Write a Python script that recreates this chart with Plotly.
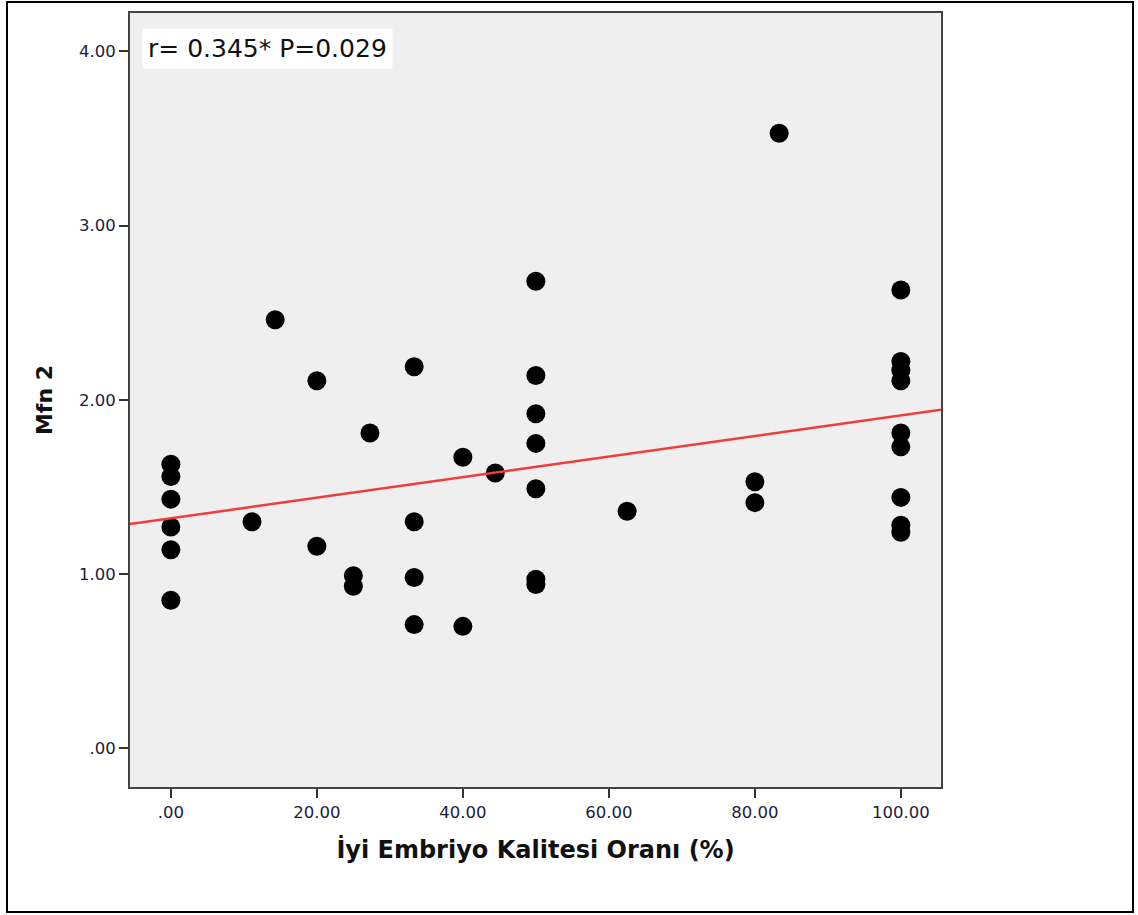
import numpy as np
import plotly.graph_objects as go

# Data
x_vals = [0, 0, 0, 0, 0, 0,
          11.11, 14.29, 20, 20, 25, 25, 27.27,
          33.33, 33.33, 33.33, 33.33, 40, 40, 44.44,
          50, 50, 50, 50, 50, 50, 50,
          62.5, 80, 80, 83.33,
          100, 100, 100, 100, 100, 100, 100, 100, 100]
y_vals = [1.63, 1.56, 1.43, 1.27, 1.14, 0.85,
          1.30, 2.46, 2.11, 1.16, 0.99, 0.93, 1.81,
          2.19, 1.30, 0.98, 0.71, 1.67, 0.70, 1.58,
          2.68, 2.14, 1.92, 1.75, 1.49, 0.97, 0.94,
          1.36, 1.53, 1.41, 3.53,
          2.63, 2.22, 2.17, 2.11, 1.81, 1.73, 1.44, 1.28, 1.24]

fit_x = [-5.6, 105.5]
fit_intercept = 1.32
fit_slope = 0.0059
fit_y = [fit_intercept + fit_slope * v for v in fit_x]

x_ticks = [0, 20, 40, 60, 80, 100]
x_ticktext = [".00", "20.00", "40.00", "60.00", "80.00", "100.00"]
y_ticks = [0, 1, 2, 3, 4]
y_ticktext = [".00", "1.00", "2.00", "3.00", "4.00"]

W, H = 1138, 915
L, R, T, B = 130, 197, 13, 128
pw, ph = W - L - R, H - T - B

def px(xp):
    return (xp - L) / pw

def py(yp):
    return (H - B - yp) / ph

fig = go.Figure()
fig.add_trace(go.Scatter(x=x_vals, y=y_vals, mode="markers",
                         marker=dict(color="black", size=19, line=dict(width=0)),
                         showlegend=False, hoverinfo="skip"))
fig.add_trace(go.Scatter(x=fit_x, y=fit_y, mode="lines",
                         line=dict(color="#f03c3c", width=2.5),
                         showlegend=False, hoverinfo="skip"))

axis_common = dict(showline=True, linecolor="#444444", linewidth=2, mirror=True,
                   showgrid=False, zeroline=False, ticks="outside", ticklen=9,
                   tickwidth=2, tickcolor="#333333",
                   tickfont=dict(family="DejaVu Sans", size=16.5, color="#1c1c3a"))

fig.update_xaxes(range=[-5.6, 105.5], tickvals=x_ticks, ticktext=x_ticktext,
                 title=dict(text="<b>İyi Embriyo Kalitesi Oranı (%)</b>",
                            font=dict(family="DejaVu Sans", size=24, color="#111111"),
                            standoff=20),
                 **axis_common)
fig.update_yaxes(range=[-0.222, 4.22], tickvals=y_ticks, ticktext=y_ticktext,
                 title=dict(text="<b>Mfn 2</b>",
                            font=dict(family="DejaVu Sans", size=22, color="#111111"),
                            standoff=20),
                 **axis_common)

fig.add_annotation(xref="paper", yref="paper", x=px(142), y=py(48),
                   xanchor="left", yanchor="middle", showarrow=False,
                   text="r= 0.345* P=0.029", bgcolor="white",
                   borderpad=5,
                   font=dict(family="DejaVu Sans", size=25, color="#111111"))

# outer frame
fig.add_shape(type="rect", xref="paper", yref="paper",
              x0=px(7), x1=px(1133), y0=py(912), y1=py(2),
              line=dict(color="black", width=2), fillcolor="rgba(0,0,0,0)",
              layer="below")

fig.update_layout(width=W, height=H, margin=dict(l=L, r=R, t=T, b=B),
                  plot_bgcolor="#efefef", paper_bgcolor="white",
                  font=dict(family="DejaVu Sans"))

fig.write_html("out.html", config={"displayModeBar": False},
               post_script="document.body.style.margin='0';document.body.style.overflow='hidden';")
